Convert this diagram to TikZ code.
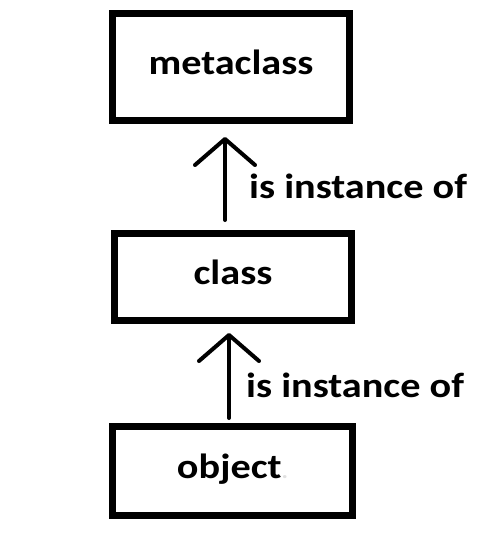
\documentclass[tikz,border=0pt]{standalone}
\usepackage{fontspec}
\setmainfont{Carlito}
\usetikzlibrary{arrows.meta}
\newcommand{\lbl}[1]{\scalebox{1.15}[1]{\fontsize{35}{40}\selectfont\bfseries #1}}
\tikzset{
  box/.style={draw=black, line width=7pt, rectangle, inner sep=0pt, outer sep=0pt,
    text height=20pt, text depth=6pt, font=\fontsize{35}{40}\selectfont\bfseries},
  inst/.style={line width=4pt, line cap=round, -{Straight Barb[length=26pt,width=60pt,round]}},
  lab/.style={anchor=base west, inner sep=0pt}
}
\begin{document}
\begin{tikzpicture}[x=1pt,y=-1pt]
\useasboundingbox[fill=white] (0,0) rectangle (479,539);
\node[box, minimum width=237pt, minimum height=107pt] (meta) at (231,67) {\lbl{metaclass}};
\node[box, minimum width=237pt, minimum height=87pt] (cls) at (233,277) {\lbl{class}};
\node[box, minimum width=240pt, minimum height=89pt] (obj) at (232.5,471) {\lbl{object}\textcolor{black!12}{\scalebox{0.6}{\lbl{.}}}};
\draw[inst, shorten <=13.5pt, shorten >=16.5pt] ([xshift=-8pt]cls.north) -- ([xshift=-6pt]meta.south);
\draw[inst, shorten <=8.5pt, shorten >=12.5pt] ([xshift=-3.5pt]obj.north) -- ([xshift=-4pt]cls.south);
\node[lab] (l1) at (249,198) {\lbl{is instance of}};
\node[lab] (l2) at (246,397) {\lbl{is instance of}};
\end{tikzpicture}
\end{document}
